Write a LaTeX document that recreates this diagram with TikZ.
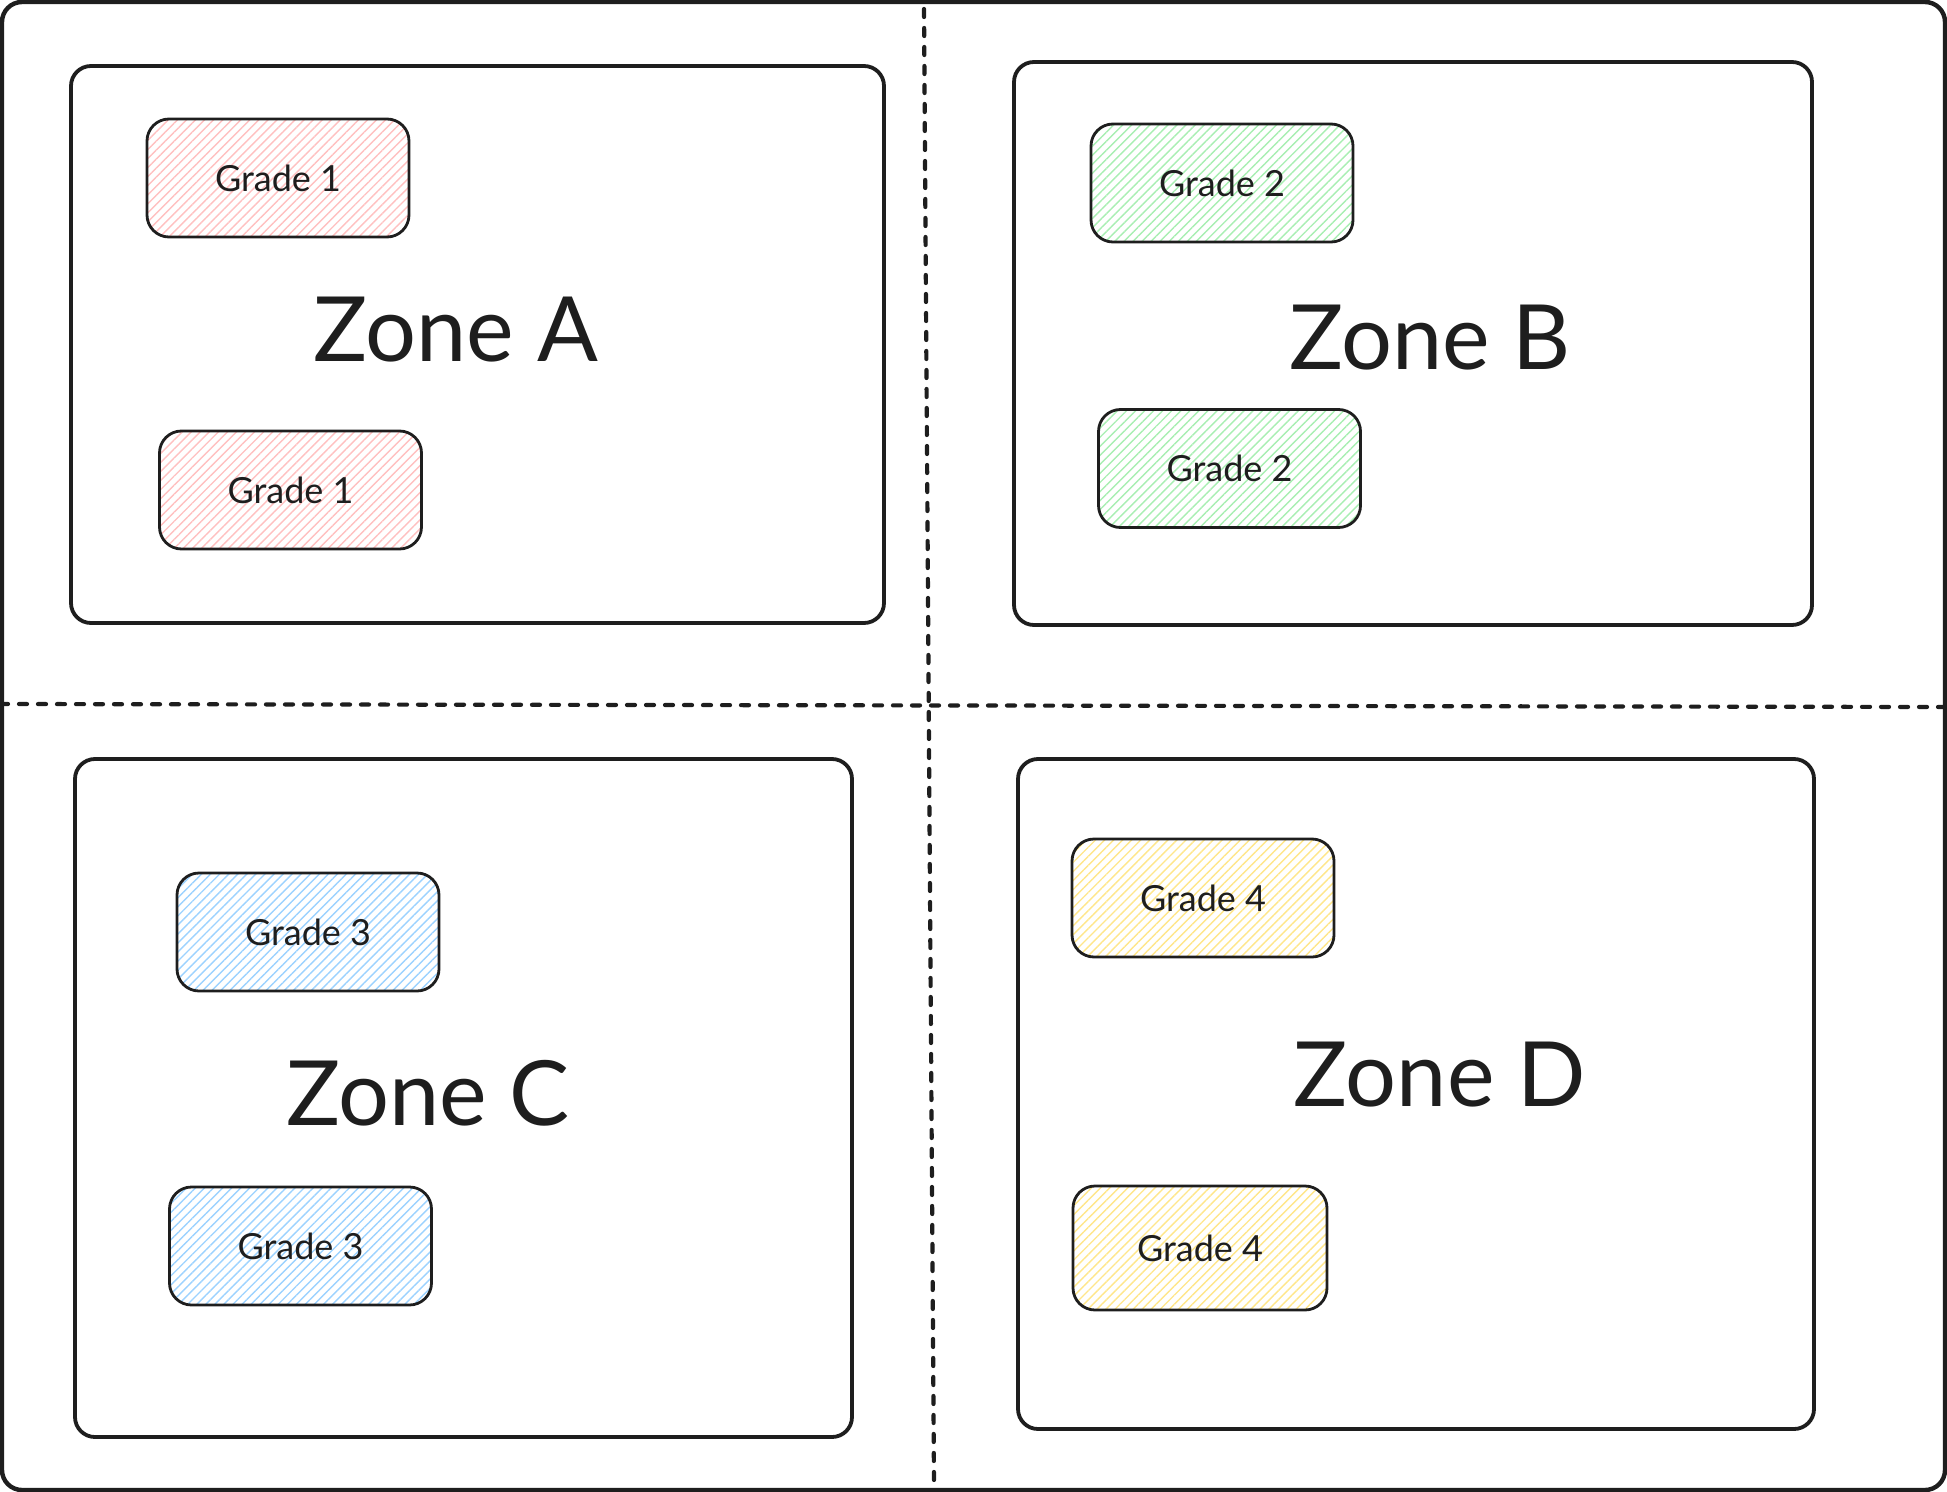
\documentclass[tikz,border=0pt]{standalone}
\usepackage{fontspec}
\setmainfont{Lato}
\usetikzlibrary{patterns.meta}
\definecolor{ink}{HTML}{1E1E1E}
\definecolor{gradeone}{HTML}{FFC0C0}
\definecolor{gradetwo}{HTML}{A8EEB2}
\definecolor{gradethree}{HTML}{9CD2FF}
\definecolor{gradefour}{HTML}{FFE68A}
\tikzset{
  frame/.style={draw=ink, line width=2.2pt, rounded corners=10pt},
  zonebox/.style={draw=ink, line width=1.9pt, rounded corners=10pt, inner sep=0pt},
  zonelabel/.style={text=ink, font=\fontsize{45}{54}\selectfont, inner sep=0pt},
  gradebox/.style={draw=ink, line width=1.4pt, rounded corners=11pt, inner sep=0pt,
    minimum width=131pt, minimum height=59pt, text=ink, font=\fontsize{18}{22}\selectfont,
    pattern={Lines[angle=45,distance=3.2pt,line width=0.7pt]}, pattern color=#1},
  divider/.style={draw=ink, line width=2.1pt, line cap=round, dash pattern=on 4pt off 5.5pt},
}
\begin{document}
\begin{tikzpicture}[x=0.5pt, y=-0.5pt]
  \useasboundingbox (0,0) rectangle (1947,1492);
  % outer frame
  \draw[frame] (2,2) rectangle (1945,1490);

  % quadrant dividers
  \coordinate (hl) at (0,704);
  \coordinate (hr) at (1947,707);
  \coordinate (vt) at (924,9);
  \coordinate (vb) at (934,1482);
  \draw[divider] (hl) -- (hr);
  \draw[divider] (vt) -- (vb);

  % zones
  \node[zonebox, minimum width=406.5pt, minimum height=278.5pt] (zA) at (477.5,344.5) {};
  \node[zonebox, minimum width=399pt, minimum height=281.5pt] (zB) at (1413,343.5) {};
  \node[zonebox, minimum width=388.5pt, minimum height=339pt] (zC) at (463.5,1098) {};
  \node[zonebox, minimum width=398pt, minimum height=335pt] (zD) at (1416,1094) {};

  \node[zonelabel] (lA) at (456,330) {Zone A};
  \node[zonelabel] (lB) at (1430,338) {Zone B};
  \node[zonelabel] (lC) at (428,1093) {Zone C};
  \node[zonelabel] (lD) at (1440,1075) {Zone D};

  % grade groups
  \node[gradebox=gradeone] (a1) at (278,178) {Grade 1};
  \node[gradebox=gradeone] (a2) at (290.5,490) {Grade 1};
  \node[gradebox=gradetwo] (b1) at (1222,183) {Grade 2};
  \node[gradebox=gradetwo] (b2) at (1229.5,468.5) {Grade 2};
  \node[gradebox=gradethree] (c1) at (308,932) {Grade 3};
  \node[gradebox=gradethree] (c2) at (300.5,1246) {Grade 3};
  \node[gradebox=gradefour] (d1) at (1203,898) {Grade 4};
  \node[gradebox=gradefour, minimum width=127pt, minimum height=62pt] (d2) at (1200,1248) {Grade 4};
\end{tikzpicture}
\end{document}
